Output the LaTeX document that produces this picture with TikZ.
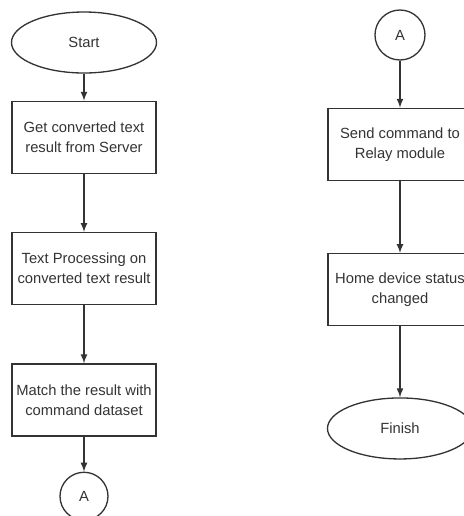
\documentclass[tikz,border=0pt]{standalone}
\usepackage{fontspec}
\setmainfont{Liberation Sans}
\usetikzlibrary{shapes, arrows, positioning}

\begin{document}
\begin{tikzpicture}[node distance=0.54cm,
	color=black!80, line width=0.75pt,
	every node/.style={font=\fontsize{8.4}{11.4}\selectfont},
	terminal/.style={ellipse, draw, minimum width=2.9cm, minimum height=1.22cm, inner sep=0pt},
	process/.style={rectangle, draw, minimum width=2.88cm, minimum height=1.44cm, align=center, inner sep=0pt},
	connector/.style={circle, draw, minimum size=0.96cm, inner sep=0pt}]
	\useasboundingbox (0,0) rectangle (9.28,-10.32);
	% left column
	\node[terminal] (start) at (1.68,-0.85) {Start};
	\node[process, below =of start] (get) {Get converted text\\result from Server};
	\node[process, below =1.16cm of get] (textproc) {Text Processing on\\converted text result};
	\node[process, below =1.16cm of textproc] (match) {Match the result with\\command dataset};
	\node[connector, below =0.7cm of match] (conA) {A};
	% right column
	\node[connector, minimum size=1cm] (conB) at (8.0,-0.7) {A};
	\node[process, below =0.94cm of conB] (send) {Send command to\\Relay module};
	\node[process, below =1.44cm of send] (home) {Home device status\\changed};
	\node[terminal, below =1.42cm of home] (finish) {Finish};
	\foreach \from/\to in {start/get,get/textproc,textproc/match,match/conA,conB/send,send/home,home/finish}
		\draw[-latex] (\from) -- (\to);
\end{tikzpicture}
\end{document}
